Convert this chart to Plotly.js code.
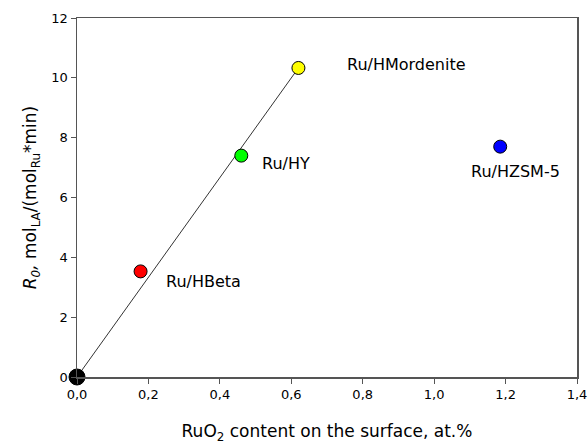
<!DOCTYPE html>
<html>
<head>
<meta charset="utf-8">
<script src="https://cdn.plot.ly/plotly-3.0.1.min.js"></script>
<style>html,body{margin:0;padding:0;background:#fff;}#chart{width:588px;height:444px;}</style>
</head>
<body>
<div id="chart"></div>
<script>
// Data
const catalysts = ["Origin", "Ru/HBeta", "Ru/HY", "Ru/HMordenite", "Ru/HZSM-5"];
const ruo2Content = [0.0, 0.178, 0.46, 0.62, 1.185];
const rateR0 = [0.0, 3.53, 7.4, 10.33, 7.7];
const pointColors = ["#000000", "#ff0000", "#00ff00", "#ffff00", "#0000ff"];
const fitLineX = [0.0, 0.62];
const fitLineY = [0.0, 10.33];
const xTickVals = [0, 0.2, 0.4, 0.6, 0.8, 1.0, 1.2, 1.4];
const xTickText = ["0,0", "0,2", "0,4", "0,6", "0,8", "1,0", "1,2", "1,4"];
const yTickVals = [0, 2, 4, 6, 8, 10, 12];

const FONT = "DejaVu Sans, Liberation Sans, Arial, sans-serif";

const traces = [
  {
    x: fitLineX, y: fitLineY, mode: "lines", type: "scatter",
    line: {color: "#333333", width: 1}, hoverinfo: "skip", cliponaxis: false
  },
  {
    x: ruo2Content, y: rateR0, mode: "markers", type: "scatter",
    opacity: 1,
    marker: {
      color: pointColors, opacity: 1,
      size: ruo2Content.map((v, i) => i === 0 ? 16 : 13),
      line: {color: "#000000", width: 1}
    },
    cliponaxis: false
  }
];

// label offsets (pixels) relative to each point
const labelShift = {
  "Ru/HBeta": {xs: 23, ys: -10, xa: "left"},
  "Ru/HY": {xs: 19, ys: -8, xa: "left"},
  "Ru/HMordenite": {xs: 47, ys: 3, xa: "left"},
  "Ru/HZSM-5": {xs: 15, ys: -25, xa: "center"}
};
const annotations = [];
catalysts.forEach((name, i) => {
  if (!labelShift[name]) return;
  const s = labelShift[name];
  annotations.push({
    x: ruo2Content[i], y: rateR0[i], xref: "x", yref: "y",
    text: name, showarrow: false, xanchor: s.xa, yanchor: "middle",
    xshift: s.xs, yshift: s.ys,
    font: {family: FONT, size: 16, color: "#000"}
  });
});

const layout = {
  width: 588, height: 444,
  margin: {l: 77, r: 11, t: 18, b: 67},
  paper_bgcolor: "#fff", plot_bgcolor: "#fff",
  showlegend: false,
  font: {family: FONT, color: "#000"},
  xaxis: {
    range: [0, 1.4], tickvals: xTickVals, ticktext: xTickText,
    ticks: "outside", ticklen: 5, tickwidth: 1, tickcolor: "#555",
    showline: true, linecolor: "#555", linewidth: 1.5, mirror: true,
    showgrid: false, zeroline: false, automargin: false,
    ticklabeloverflow: "allow",
    tickfont: {family: FONT, size: 13, color: "#000"},
    title: {text: "RuO<sub>2</sub> content on the surface, at.%", font: {family: FONT, size: 17, color: "#000"}, standoff: 24}
  },
  yaxis: {
    range: [0, 12], tickvals: yTickVals,
    ticks: "outside", ticklen: 5, tickwidth: 1, tickcolor: "#555",
    showline: true, linecolor: "#555", linewidth: 1.5, mirror: true,
    showgrid: false, zeroline: false, automargin: false,
    ticklabeloverflow: "allow",
    tickfont: {family: FONT, size: 13, color: "#000"},
    title: {text: "<i>R<sub>0</sub>,</i> mol<sub>LA</sub>/(mol<sub>Ru</sub>*min)", font: {family: FONT, size: 17, color: "#000"}, standoff: 10}
  },
  annotations: annotations
};

Plotly.newPlot("chart", traces, layout, {displayModeBar: false, staticPlot: true});
</script>
</body>
</html>
